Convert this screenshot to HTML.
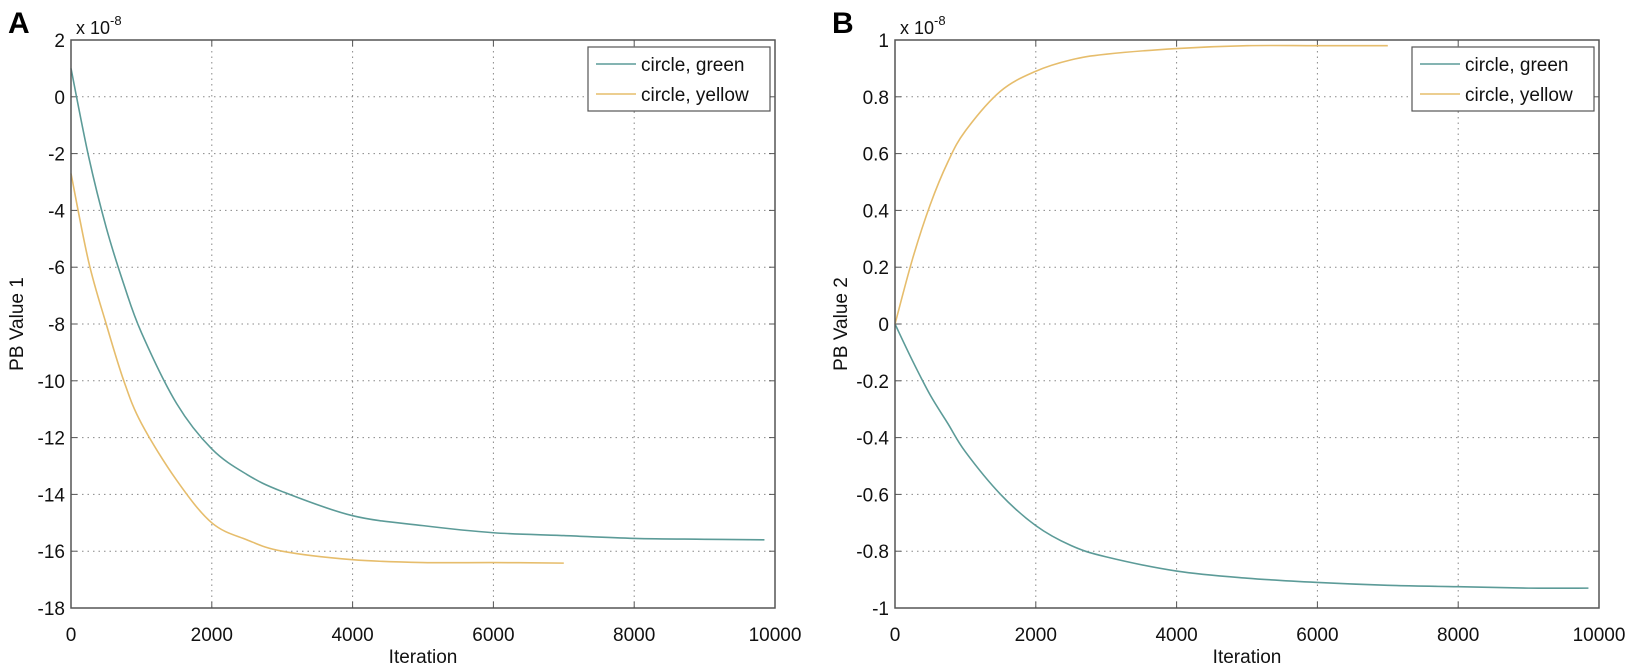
<!DOCTYPE html>
<html><head><meta charset="utf-8"><style>
body{margin:0;background:#fff;}
svg{display:block;font-family:"Liberation Sans",Arial,sans-serif;}
</style></head><body>
<svg id="s" width="1640" height="666" viewBox="0 0 1640 666"></svg>
<script>
const iterA = [0,250,500,750,1000,1500,2000,2500,3000,4000,5000,6000,7000,8000,9000,9850];
const greenA = [1.0,-2.1,-4.6,-6.6,-8.3,-10.8,-12.4,-13.3,-13.9,-14.75,-15.1,-15.35,-15.45,-15.55,-15.58,-15.6];
const iterYA = [0,250,500,750,1000,1500,2000,2500,3000,4000,5000,6000,7000];
const yellowA = [-2.7,-5.8,-8.0,-10.0,-11.5,-13.5,-15.0,-15.6,-16.0,-16.3,-16.4,-16.4,-16.42];
const iterB = [0,250,500,750,1000,1500,2000,2500,3000,4000,5000,6000,7000,8000,9000,9850];
const greenB = [0,-0.13,-0.25,-0.35,-0.45,-0.6,-0.71,-0.78,-0.82,-0.87,-0.895,-0.91,-0.92,-0.925,-0.93,-0.93];
const iterYB = [0,250,500,750,1000,1500,2000,2500,3000,4000,5000,6000,7000];
const yellowB = [0,0.23,0.42,0.57,0.68,0.82,0.89,0.93,0.95,0.97,0.98,0.98,0.98];
const xTicks = [0,2000,4000,6000,8000,10000];
const yTicksA = [2,0,-2,-4,-6,-8,-10,-12,-14,-16,-18];
const yTicksB = [1,0.8,0.6,0.4,0.2,0,-0.2,-0.4,-0.6,-0.8,-1];
const legendLabels = ["circle, green","circle, yellow"];

const NS="http://www.w3.org/2000/svg";
const svg=document.getElementById('s');
function mk(t,a,p){const e=document.createElementNS(NS,t);for(const k in a)e.setAttribute(k,a[k]);(p||svg).appendChild(e);return e;}
function smooth(pts){let d=`M${pts[0][0]},${pts[0][1]}`;for(let i=0;i<pts.length-1;i++){const p0=pts[i-1]||pts[i],p1=pts[i],p2=pts[i+1],p3=pts[i+2]||p2;
const c1=[p1[0]+(p2[0]-p0[0])/6,p1[1]+(p2[1]-p0[1])/6],c2=[p2[0]-(p3[0]-p1[0])/6,p2[1]-(p3[1]-p1[1])/6];
d+=` C${c1[0]},${c1[1]} ${c2[0]},${c2[1]} ${p2[0]},${p2[1]}`;}return d;}

function panel(id,L,R,T,B,yTicks,ymin,ymax,series,letter,ylab){
  const g=mk('g',{});
  
  
  const sx=v=>L+(v-0)/10000*(R-L), sy=v=>B-(v-ymin)/(ymax-ymin)*(B-T);
  xTicks.forEach(t=>{const x=sx(t);
    if(t>0&&t<10000){const l=mk('line',{x1:x,x2:x,y1:T,y2:B,stroke:'#888','stroke-width':1,'stroke-dasharray':'1.5,4'},g);}
    mk('line',{x1:x,x2:x,y1:B,y2:B-6,stroke:'#555'},g);mk('line',{x1:x,x2:x,y1:T,y2:T+6,stroke:'#555'},g);
    const tx=mk('text',{x:x,y:B+33,'font-size':19,'text-anchor':'middle',fill:'#111'},g);tx.textContent=t;
    });
  yTicks.forEach(t=>{const y=sy(t);
    if(t>ymin&&t<ymax){const l=mk('line',{x1:L,x2:R,y1:y,y2:y,stroke:'#888','stroke-width':1,'stroke-dasharray':'1.5,4'},g);}
    mk('line',{x1:L,x2:L+6,y1:y,y2:y,stroke:'#555'},g);mk('line',{x1:R,x2:R-6,y1:y,y2:y,stroke:'#555'},g);
    const tx=mk('text',{x:L-6,y:y+7,'font-size':19,'text-anchor':'end',fill:'#111'},g);tx.textContent=t;
    });
  series.forEach(s=>{const pts=s.x.map((v,i)=>[sx(v),sy(s.y[i])]);
    const p=mk('path',{d:smooth(pts),fill:'none',stroke:s.c,'stroke-width':1.6},g);
    });
  const fr=mk('rect',{x:L,y:T,width:R-L,height:B-T,fill:'none',stroke:'#555','stroke-width':1.5},g);
  
  const ex=mk('text',{x:L+5,y:T-6,'font-size':18,fill:'#111'},g);ex.innerHTML='x 10<tspan dy="-9" font-size="13">-8</tspan>';
  
  const lt=mk('text',{x:L-63,y:33,'font-size':30,'font-weight':'bold',fill:'#000'},g);lt.textContent=letter;
  
  const xl=mk('text',{x:(L+R)/2,y:B+55,'font-size':19,'text-anchor':'middle',fill:'#111'},g);xl.textContent='Iteration';
  
  const yl=mk('text',{x:0,y:0,'font-size':19,'text-anchor':'middle',fill:'#111',transform:`translate(${L-48},${(T+B)/2}) rotate(-90)`},g);yl.textContent=ylab;
  
  const lg=mk('g',{},g);
  const lx=R-187;
  mk('rect',{x:lx,y:47,width:182,height:64,fill:'#fff',stroke:'#555','stroke-width':1.2},lg);
  legendLabels.forEach((lab,i)=>{const y=64+i*30;
    mk('line',{x1:lx+8,x2:lx+48,y1:y,y2:y,stroke:series[i].c,'stroke-width':1.6},lg);
    const t=mk('text',{x:lx+53,y:y+7,'font-size':19,fill:'#111'},lg);t.textContent=lab;
    });
}
panel('a',71,775,40,608,yTicksA,-18,2,[{x:iterA,y:greenA,c:'#5c9b98',n:'line-green-a'},{x:iterYA,y:yellowA,c:'#e6bd6c',n:'line-yellow-a'}],'A','PB Value 1');
panel('b',895,1599,40,608,yTicksB,-1,1,[{x:iterB,y:greenB,c:'#5c9b98',n:'line-green-b'},{x:iterYB,y:yellowB,c:'#e6bd6c',n:'line-yellow-b'}],'B','PB Value 2');
</script>
</body></html>
